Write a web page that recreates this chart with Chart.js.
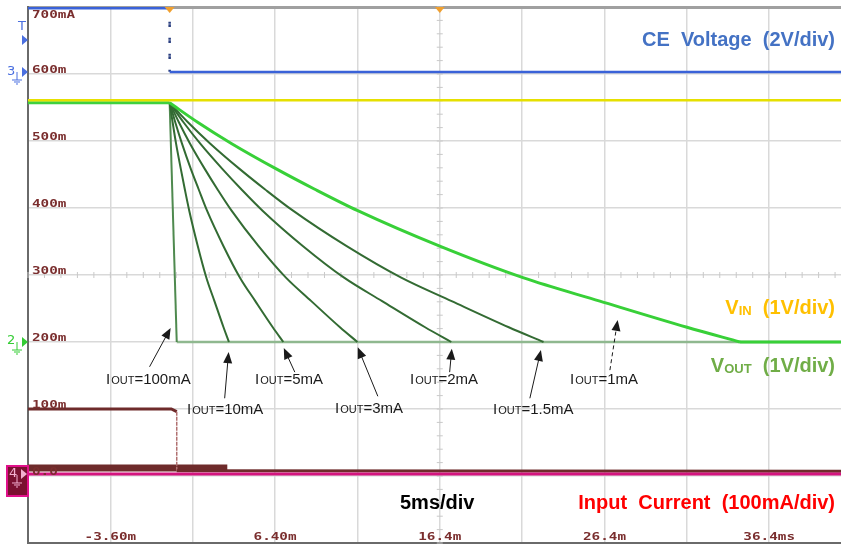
<!DOCTYPE html>
<html>
<head>
<meta charset="utf-8">
<script src="https://cdn.jsdelivr.net/npm/chart.js@4.4.1/dist/chart.umd.min.js"></script>
<style>
  html, body { margin: 0; padding: 0; background: #fff; }
</style>
</head>
<body>
<canvas id="scope" width="841" height="546"></canvas>
<script>
// =============================================
// Scope capture: CE off -> VOUT discharge
// x in ms, y in "screen" units (100 per division, labelled like the current channel)
// =============================================

const xGrid = [-8.6, -3.6, 1.4, 6.4, 11.4, 16.4, 21.4, 26.4, 31.4, 36.4];
const xLabelAt = [-3.6, 6.4, 16.4, 26.4, 36.4];
const xLabels = ['-3.60m', '6.40m', '16.4m', '26.4m', '36.4ms'];
const yGrid = [-100, 0, 100, 200, 300, 400, 500, 600, 700];
const yLabelAt = [0, 100, 200, 300, 400, 500, 600, 700];
const yLabels = ['0.0', '100m', '200m', '300m', '400m', '500m', '600m', '700mA'];

// CE voltage (blue), VIN (yellow)
const ceTime = [-8.6, 0, 0, 40.8];
const ceValue = [698, 698, 603, 603];
const vinTime = [-8.6, 40.8];
const vinValue = [561, 561];

// VOUT before CE goes low, and the floor once discharged
const voutPreTime = [-8.6, 0];
const voutPreValue = [557, 557];
const floorTime = [0.43, 40.8];
const floorValue = [200, 200];
const tail1mATime = [34.63, 40.8];
const tail1mAValue = [200, 200];

// VOUT discharge, one trace per load current
const t1mA = [0, 1.70, 3.77, 6.50, 8.81, 11.42, 16.40, 21.45, 26.12, 31.41, 34.63];
const v1mA = [557, 528, 496, 458, 428, 396, 343, 296, 261, 222, 200];
const t1p5mA = [0, 1.11, 2.47, 4.26, 5.78, 7.49, 10.75, 14.06, 17.12, 20.59, 22.7];
const v1p5mA = [557, 528, 496, 458, 428, 396, 343, 296, 261, 222, 200];
const t2mA = [0, 0.84, 1.86, 3.21, 4.35, 5.64, 8.10, 10.59, 12.90, 15.51, 17.1];
const v2mA = [557, 528, 496, 458, 428, 396, 343, 296, 261, 222, 200];
const t3mA = [0, 0.56, 1.24, 2.14, 2.90, 3.76, 5.40, 7.06, 8.60, 10.34, 11.4];
const v3mA = [557, 528, 496, 458, 428, 396, 343, 296, 261, 222, 200];
const t5mA = [0, 0.34, 0.75, 1.29, 1.76, 2.27, 3.27, 4.27, 5.20, 6.26, 6.9];
const v5mA = [557, 528, 496, 458, 428, 396, 343, 296, 261, 222, 200];
const t10mA = [0, 0.18, 0.39, 0.68, 0.92, 1.19, 1.71, 2.23, 2.72, 3.27, 3.6];
const v10mA = [557, 528, 496, 458, 428, 396, 343, 296, 261, 222, 200];
const t100mA = [0, 0.43];
const v100mA = [557, 200];

// input current (brown persistence + magenta live trace)
const iinTime = [-8.6, 0.1, 0.43, 0.43, 40.8];
const iinValue = [100, 100, 96, 8, 7];
const bandTime = [-8.6, 3.5];
const bandValue = [12, 12];
const magTime = [-8.6, 40.8];
const magValue = [3, 3];

// annotations
const noteText = ['=100mA', '=10mA', '=5mA', '=3mA', '=2mA', '=1.5mA', '=1mA'];
const noteX = [106, 187, 255, 335, 410, 493, 570];
const noteY = [380, 410, 380, 409, 380, 410, 380];
const arrowTailT = [-1.22, 3.34, 7.6, 12.64, 17.0, 21.87, 26.73];
const arrowTailV = [163, 116, 155, 119, 155, 116, 158];
const arrowHeadT = [0.06, 3.58, 6.93, 11.42, 17.13, 22.54, 27.2];
const arrowHeadV = [221, 185, 191, 192, 190, 188, 233];
const arrowDashed = [false, false, false, false, false, false, true];

function pts(t, v) { return t.map((x, i) => ({ x, y: v[i] })); }

function trace(data, color, width, order, extra) {
  return Object.assign({
    data, borderColor: color, borderWidth: width, order,
    pointRadius: 0, fill: false, tension: 0
  }, extra || {});
}

const DARK = '#336b33';
const SMOOTH = { cubicInterpolationMode: 'monotone' };

const decor = {
  id: 'decor',
  beforeDatasetsDraw(chart) {
    const { ctx, scales: { x, y } } = chart;
    const cx = x.getPixelForValue(16.4), cy = y.getPixelForValue(300);
    ctx.save();
    ctx.strokeStyle = '#c9c9c9';
    ctx.lineWidth = 1;
    ctx.beginPath();
    for (let t = -8.6; t < 41; t += 1) {
      const px = x.getPixelForValue(t);
      ctx.moveTo(px, cy - 3); ctx.lineTo(px, cy + 3);
    }
    for (let v = -100; v <= 700; v += 20) {
      const py = y.getPixelForValue(v);
      ctx.moveTo(cx - 3, py); ctx.lineTo(cx + 3, py);
    }
    ctx.stroke();
    ctx.restore();
  },
  afterDraw(chart) {
    const { ctx, scales: { x, y } } = chart;
    ctx.save();

    // scope scale labels
    ctx.fillStyle = '#7a2e2e';
    ctx.font = 'bold 11px "DejaVu Sans Mono"';
    ctx.textBaseline = 'middle';
    yLabelAt.forEach((v, i) => {
      const py = y.getPixelForValue(v) + (v === 700 ? 8 : -4);
      ctx.save();
      ctx.translate(32, py);
      ctx.scale(1.3, 0.9);
      ctx.fillText(yLabels[i], 0, 0);
      ctx.restore();
    });
    ctx.textAlign = 'center';
    xLabelAt.forEach((t, i) => {
      ctx.save();
      ctx.translate(x.getPixelForValue(t), 537);
      ctx.scale(1.3, 0.9);
      ctx.fillText(xLabels[i], 0, 0);
      ctx.restore();
    });

    // trigger markers
    ctx.fillStyle = '#f0a030';
    [0, 16.4].forEach(t => {
      const px = x.getPixelForValue(t);
      ctx.beginPath();
      ctx.moveTo(px - 5, 7); ctx.lineTo(px + 5, 7); ctx.lineTo(px, 13); ctx.closePath();
      ctx.fill();
    });

    // channel markers on the left
    function ground(px, py, color) {
      ctx.strokeStyle = color; ctx.lineWidth = 1;
      ctx.beginPath();
      ctx.moveTo(px, py); ctx.lineTo(px, py + 8);
      ctx.moveTo(px - 5, py + 8); ctx.lineTo(px + 5, py + 8);
      ctx.moveTo(px - 3, py + 10); ctx.lineTo(px + 3, py + 10);
      ctx.moveTo(px - 1, py + 12); ctx.lineTo(px + 1, py + 12);
      ctx.stroke();
    }
    function tri(px, py, color) {
      ctx.fillStyle = color;
      ctx.beginPath();
      ctx.moveTo(px - 6, py - 5); ctx.lineTo(px, py); ctx.lineTo(px - 6, py + 5); ctx.closePath();
      ctx.fill();
    }
    ctx.textAlign = 'left';
    ctx.font = '13px "DejaVu Sans"';
    ctx.fillStyle = '#4a6fe0';
    ctx.fillText('T', 18, 27);
    tri(28, 40, '#4a6fe0');
    ctx.fillStyle = '#4a6fe0';
    ctx.fillText('3', 7, 72);
    tri(28, y.getPixelForValue(603), '#4a6fe0');
    ground(17, y.getPixelForValue(603), '#4a6fe0');
    ctx.fillStyle = '#33cc33';
    ctx.fillText('2', 7, y.getPixelForValue(200) - 1);
    tri(28, y.getPixelForValue(200), '#33cc33');
    ground(17, y.getPixelForValue(200), '#33cc33');
    const gy = y.getPixelForValue(3);
    ctx.fillStyle = '#7a1030';
    ctx.strokeStyle = '#e0108a';
    ctx.lineWidth = 2;
    ctx.fillRect(7, gy - 8, 21, 30);
    ctx.strokeRect(7, gy - 8, 21, 30);
    ctx.fillStyle = '#f3b0d0';
    ctx.fillText('4', 9, gy);
    tri(27, gy, '#f3b0d0');
    ground(17, gy + 1, '#f3b0d0');

    // Iout annotations
    ctx.textBaseline = 'middle';
    ctx.fillStyle = '#1a1a1a';
    noteText.forEach((txt, i) => {
      let px = noteX[i];
      const py = noteY[i];
      ctx.font = '15px "Liberation Sans"';
      ctx.fillText('I', px, py);
      px += ctx.measureText('I').width + 1;
      ctx.font = '11px "Liberation Sans"';
      ctx.fillText('OUT', px, py + 1);
      px += ctx.measureText('OUT').width;
      ctx.font = '15px "Liberation Sans"';
      ctx.fillText(txt, px, py);

      const x0 = x.getPixelForValue(arrowTailT[i]), y0 = y.getPixelForValue(arrowTailV[i]);
      const x1 = x.getPixelForValue(arrowHeadT[i]), y1 = y.getPixelForValue(arrowHeadV[i]);
      const a = Math.atan2(y1 - y0, x1 - x0);
      ctx.strokeStyle = '#1a1a1a';
      ctx.lineWidth = 1;
      ctx.setLineDash(arrowDashed[i] ? [4, 3] : []);
      ctx.beginPath();
      ctx.moveTo(x0, y0);
      ctx.lineTo(x1 - 8 * Math.cos(a), y1 - 8 * Math.sin(a));
      ctx.stroke();
      ctx.setLineDash([]);
      ctx.beginPath();
      ctx.moveTo(x1, y1);
      ctx.lineTo(x1 - 11 * Math.cos(a) + 4.5 * Math.sin(a), y1 - 11 * Math.sin(a) - 4.5 * Math.cos(a));
      ctx.lineTo(x1 - 11 * Math.cos(a) - 4.5 * Math.sin(a), y1 - 11 * Math.sin(a) + 4.5 * Math.cos(a));
      ctx.closePath();
      ctx.fill();
    });

    // channel captions
    const R = 835;
    function caption(parts, py) {
      let w = 0;
      parts.forEach(p => { ctx.font = p.f; w += ctx.measureText(p.s).width; });
      let px = R - w;
      parts.forEach(p => {
        ctx.font = p.f; ctx.fillStyle = p.c;
        ctx.fillText(p.s, px, py + (p.dy || 0));
        px += ctx.measureText(p.s).width;
      });
    }
    const B = 'bold 20px "Liberation Sans"', S = 'bold 13px "Liberation Sans"';
    caption([{ s: 'CE  Voltage  (2V/div)', f: B, c: '#4472c4' }], 40);
    caption([{ s: 'V', f: B, c: '#ffc000' }, { s: 'IN', f: S, c: '#ffc000', dy: 3 },
             { s: '  (1V/div)', f: B, c: '#ffc000' }], 308);
    caption([{ s: 'V', f: B, c: '#70ad47' }, { s: 'OUT', f: S, c: '#70ad47', dy: 3 },
             { s: '  (1V/div)', f: B, c: '#70ad47' }], 366);
    caption([{ s: 'Input  Current  (100mA/div)', f: B, c: '#ff0000' }], 503);
    ctx.font = B; ctx.fillStyle = '#000';
    ctx.fillText('5ms/div', 400, 503);

    ctx.restore();
  }
};

new Chart(document.getElementById('scope').getContext('2d'), {
  type: 'line',
  data: {
    datasets: [
      trace(pts(magTime, magValue), '#d4147e', 3, 1),
      trace(pts(iinTime, iinValue), '#6e2b2b', 3, 2, {
        segment: {
          borderDash: c => c.p0DataIndex === 2 ? [2, 3] : undefined,
          borderColor: c => c.p0DataIndex === 2 ? '#b07070' : undefined,
          borderWidth: c => c.p0DataIndex === 2 ? 1.5 : undefined
        }
      }),
      trace(pts(bandTime, bandValue), '#6e2b2b', 7, 3),
      trace(pts(ceTime, ceValue), '#3a62d8', 2.5, 4, {
        segment: {
          borderDash: c => c.p0DataIndex === 1 ? [2, 14] : undefined,
          borderColor: c => c.p0DataIndex === 1 ? '#2a3f80' : undefined
        }
      }),
      trace(pts(vinTime, vinValue), '#e6e000', 2.5, 5),
      trace(pts(voutPreTime, voutPreValue), '#3fd03f', 3, 6),
      trace(pts(t1mA, v1mA), '#38d038', 3, 7, SMOOTH),
      trace(pts(tail1mATime, tail1mAValue), '#38d038', 3, 7),
      trace(pts(t1p5mA, v1p5mA), DARK, 2, 8, SMOOTH),
      trace(pts(t2mA, v2mA), DARK, 2, 9, SMOOTH),
      trace(pts(t3mA, v3mA), DARK, 2, 10, SMOOTH),
      trace(pts(t5mA, v5mA), DARK, 2, 11, SMOOTH),
      trace(pts(t10mA, v10mA), DARK, 2, 12, SMOOTH),
      trace(pts(t100mA, v100mA), '#4f8a4f', 2, 13),
      trace(pts(floorTime, floorValue), '#8fb88f', 2.5, 14)
    ]
  },
  options: {
    responsive: false,
    animation: false,
    layout: { padding: { left: 28, top: 7, right: 0, bottom: 3 } },
    plugins: { legend: { display: false }, tooltip: { enabled: false } },
    scales: {
      x: {
        type: 'linear', min: -8.6, max: 40.76,
        afterBuildTicks: s => { s.ticks = xGrid.map(v => ({ value: v })); },
        afterFit: s => { s.height = 0; },
        ticks: { display: false },
        grid: { color: '#d9d9d9', lineWidth: 1.5, drawTicks: false },
        border: { color: '#6a6a6a', width: 2 }
      },
      y: {
        type: 'linear', min: -100, max: 700,
        afterBuildTicks: s => { s.ticks = yGrid.map(v => ({ value: v })); },
        afterFit: s => { s.width = 0; },
        ticks: { display: false },
        grid: {
          color: c => c.tick && c.tick.value === 700 ? '#a0a0a0' : '#d9d9d9',
          lineWidth: c => c.tick && c.tick.value === 700 ? 3 : 1.5,
          drawTicks: false
        },
        border: { color: '#6a6a6a', width: 2 }
      }
    }
  },
  plugins: [decor]
});
</script>
</body>
</html>
